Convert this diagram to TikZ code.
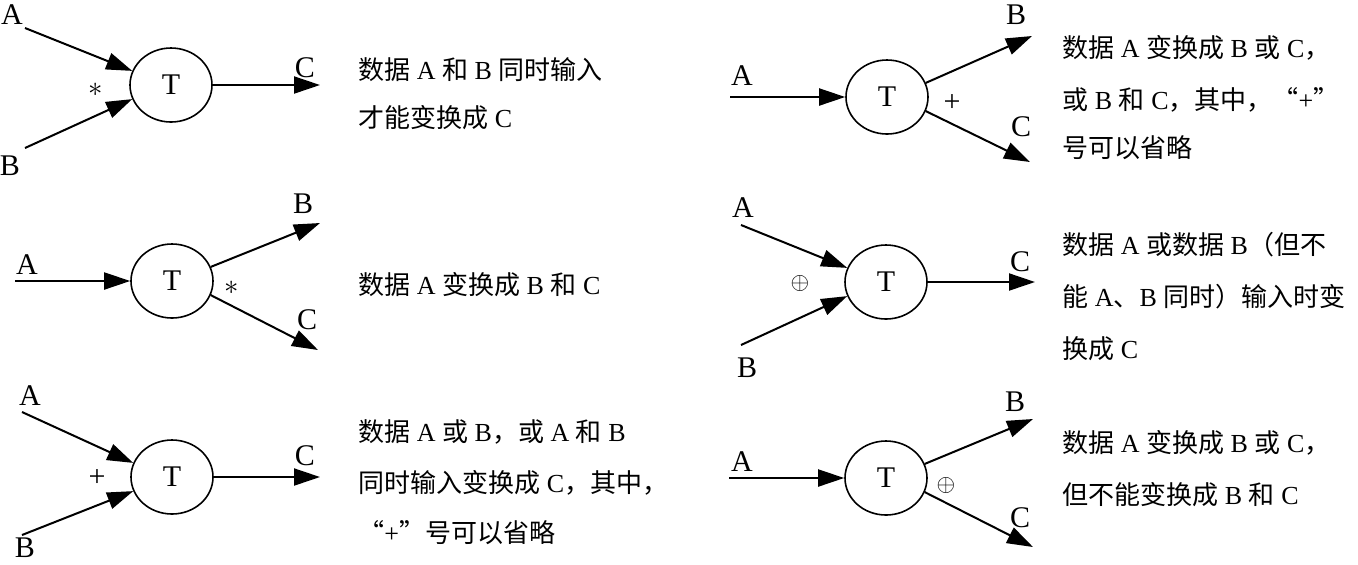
\documentclass[tikz,border=0pt]{standalone}
\usepackage{fontspec}
\setmainfont{Liberation Serif}
\newfontfamily\cjk{Noto Sans CJK SC}
\usetikzlibrary{arrows.meta,shapes.geometric}
% switch to the CJK font for Chinese characters
\XeTeXinterchartokenstate=1
\newXeTeXintercharclass\cjkclass
\count255="4E00
\loop\XeTeXcharclass\count255=\cjkclass\ifnum\count255<"9FFF\advance\count255 by 1\repeat
\XeTeXcharclass"3001=\cjkclass
\XeTeXcharclass"FF0C=\cjkclass
\XeTeXcharclass"FF08=\cjkclass
\XeTeXcharclass"FF09=\cjkclass
\XeTeXcharclass"201C=\cjkclass
\XeTeXcharclass"201D=\cjkclass
\XeTeXinterchartoks 0 \cjkclass={\cjk}
\XeTeXinterchartoks 4095 \cjkclass={\cjk}
\XeTeXinterchartoks \cjkclass 0={\rmfamily}
\XeTeXinterchartoks \cjkclass 4095={\rmfamily}
\tikzset{
  proc/.style={ellipse,draw,line width=0.8pt,minimum width=41pt,minimum height=37pt,inner sep=0pt,font=\fontsize{15}{18}\selectfont},
  flow/.style={line width=1pt,-{Triangle[length=13pt,width=8.5pt]}},
  lbl/.style={inner sep=0.75pt,font=\fontsize{15}{18}\selectfont},
  oper/.style={inner sep=0.75pt,font=\fontsize{12}{14}\selectfont},
  txt/.style={anchor=west,inner sep=0pt,font=\fontsize{13}{16}\selectfont}
}
\begin{document}
\begin{tikzpicture}[x=0.5pt,y=0.5pt,yscale=-1,xscale=1]
\path[use as bounding box] (0,0) rectangle (1358,564);

%Process nodes
\node[proc] (t1) at (171,85) {T};
\node[proc] (t2) at (172,281) {T};
\node[proc] (t3) at (172,477) {T};
\node[proc] (t4) at (887,97) {T};
\node[proc] (t5) at (886,282) {T};
\node[proc] (t6) at (886,478) {T};

%Free ends
\coordinate (a1) at (25,28);
\coordinate (b1) at (25,148);
\coordinate (c1) at (320,85);
\coordinate (a2) at (15,281);
\coordinate (b2) at (320,223);
\coordinate (c2) at (318,350);
\coordinate (a3) at (22,412);
\coordinate (b3) at (22,535);
\coordinate (c3) at (320,477);
\coordinate (a4) at (730,97);
\coordinate (b4) at (1032,36);
\coordinate (c4) at (1030,162);
\coordinate (a5) at (741,225);
\coordinate (b5) at (741,345);
\coordinate (c5) at (1035,282);
\coordinate (a6) at (729,478);
\coordinate (b6) at (1033,419);
\coordinate (c6) at (1033,547);

%Straight Lines
\draw[flow] (a1) -- (t1.160);
\draw[flow] (b1) -- (t1.200);
\draw[flow] (t1.east) -- (c1);
\draw[flow] (a2) -- (t2.west);
\draw[flow] (t2.20) -- (b2);
\draw[flow] (t2.-20) -- (c2);
\draw[flow] (a3) -- (t3.160);
\draw[flow] (b3) -- (t3.200);
\draw[flow] (t3.east) -- (c3);
\draw[flow] (a4) -- (t4.west);
\draw[flow] (t4.20) -- (b4);
\draw[flow] (t4.-20) -- (c4);
\draw[flow] (a5) -- (t5.160);
\draw[flow] (b5) -- (t5.200);
\draw[flow] (t5.east) -- (c5);
\draw[flow] (a6) -- (t6.west);
\draw[flow] (t6.20) -- (b6);
\draw[flow] (t6.-20) -- (c6);

% Text Node
\node[lbl] (la1) at (12,15) {A};
\node[lbl] (lb1) at (10,166) {B};
\node[lbl] (lc1) at (305,68) {C};
\node[lbl] (op1) at (96,90) {$*$};
\node[lbl] (la2) at (27,265) {A};
\node[lbl] (lb2) at (303,204) {B};
\node[lbl] (lc2) at (307,320) {C};
\node[lbl] (op2) at (232,288) {$*$};
\node[lbl] (la3) at (30,396) {A};
\node[lbl] (lb3) at (25,548) {B};
\node[lbl] (lc3) at (305,456) {C};
\node[lbl] (op3) at (97,478) {+};
\node[lbl] (la4) at (742,76) {A};
\node[lbl] (lb4) at (1016,15) {B};
\node[lbl] (lc4) at (1021,127) {C};
\node[lbl] (op4) at (952,103) {+};
\node[lbl] (la5) at (743,208) {A};
\node[lbl] (lb5) at (747,368) {B};
\node[lbl] (lc5) at (1020,262) {C};
\node[oper] (op5) at (800,283) {$\oplus$};
\node[lbl] (la6) at (742,462) {A};
\node[lbl] (lb6) at (1015,402) {B};
\node[lbl] (lc6) at (1020,518) {C};
\node[oper] (op6) at (946,485) {$\oplus$};

% Text Node
\node[txt] (d1a) at (358,70) {数据 A 和 B 同时输入};
\node[txt] (d1b) at (358,118) {才能变换成 C};
\node[txt] (d2a) at (358,285) {数据 A 变换成 B 和 C};
\node[txt] (d3a) at (358,432) {数据 A 或 B，或 A 和 B};
\node[txt] (d3b) at (358,483) {同时输入变换成 C，其中，};
\node[txt] (d3c) at (358,533) {“+”号可以省略};
\node[txt] (d4a) at (1062,48) {数据 A 变换成 B 或 C，};
\node[txt] (d4b) at (1062,100) {或 B 和 C，其中，“+”};
\node[txt] (d4c) at (1062,148) {号可以省略};
\node[txt] (d5a) at (1062,245) {数据 A 或数据 B（但不};
\node[txt] (d5b) at (1062,297) {能 A、B 同时）输入时变};
\node[txt] (d5c) at (1062,349) {换成 C};
\node[txt] (d6a) at (1062,443) {数据 A 变换成 B 或 C，};
\node[txt] (d6b) at (1062,495) {但不能变换成 B 和 C};

\end{tikzpicture}
\end{document}
